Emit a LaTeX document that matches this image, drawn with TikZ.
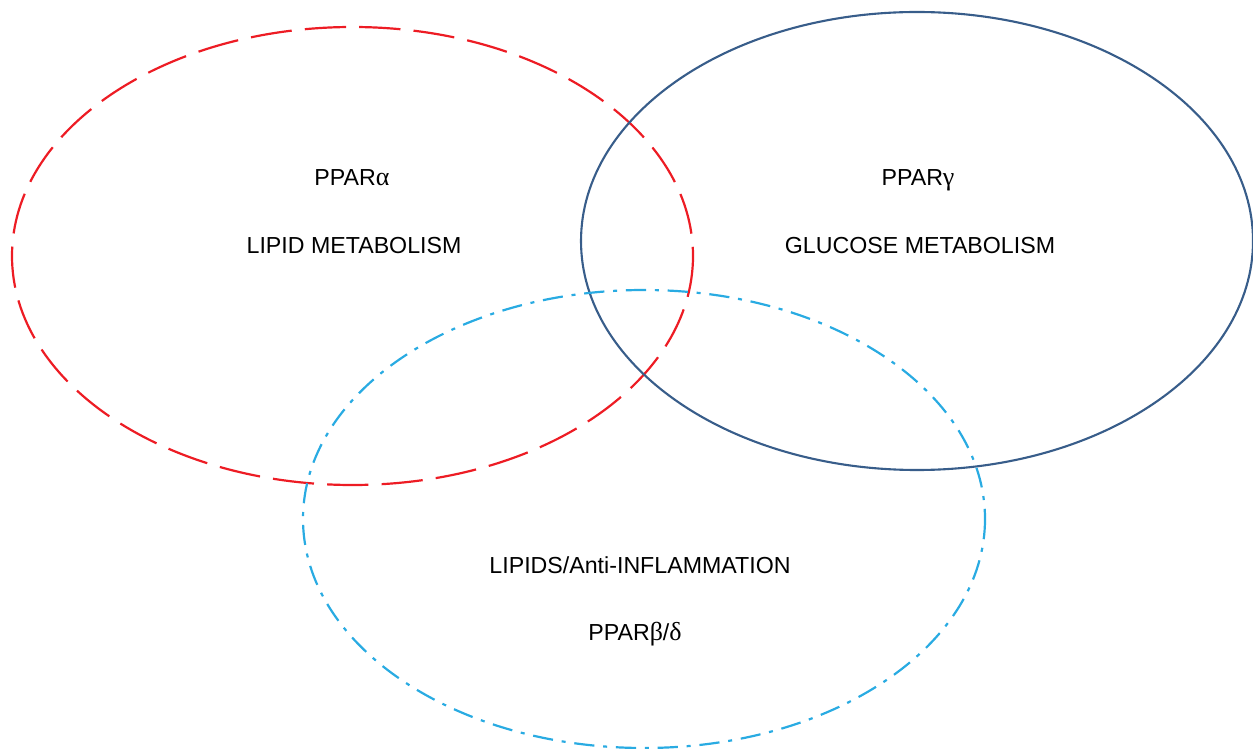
\documentclass[tikz,border=0pt]{standalone}
\usepackage{fontspec}
\setmainfont{Liberation Sans}
\newfontfamily\greekfont[Scale=1.12]{Liberation Serif}
\definecolor{lipidred}{HTML}{ED1C24}
\definecolor{glucoseblue}{HTML}{385D8A}
\definecolor{inflamcyan}{HTML}{29ABE2}
\begin{document}
\begin{tikzpicture}[x=0.02cm, y=-0.02cm]
\tikzstyle{every node}=[text centered, anchor=base, font=\fontsize{13.2pt}{15pt}\selectfont, inner sep=0pt]
\tikzstyle{lipid} = [draw=lipidred, line width=1.25pt, dash pattern=on 23.5pt off 7.5pt];
\tikzstyle{glucose} = [draw=glucoseblue, line width=1.2pt];
\tikzstyle{inflam} = [draw=inflamcyan, line width=1.25pt, dash pattern=on 11.5pt off 5pt on 2.3pt off 5pt];
\useasboundingbox (0,0) rectangle (1253,749);
% the three sets
\draw[lipid] (352.5,256) ellipse [x radius=340.5, y radius=229];
\draw[glucose] (917,241) ellipse [x radius=336, y radius=229];
\draw[inflam] (644,519) ellipse [x radius=341, y radius=229];
% labels
\node (alpha) at (352,186) {PPAR{\greekfont α}};
\node (lipidmet) at (354,254) {LIPID METABOLISM};
\node (gamma) at (918,186) {PPAR{\greekfont γ}};
\node (glucmet) at (920,254) {GLUCOSE METABOLISM};
\node (antiinf) at (640,573) {LIPIDS/Anti-INFLAMMATION};
\node (betadelta) at (635,640) {PPAR{\greekfont β}/{\greekfont δ}};
\end{tikzpicture}
\end{document}
